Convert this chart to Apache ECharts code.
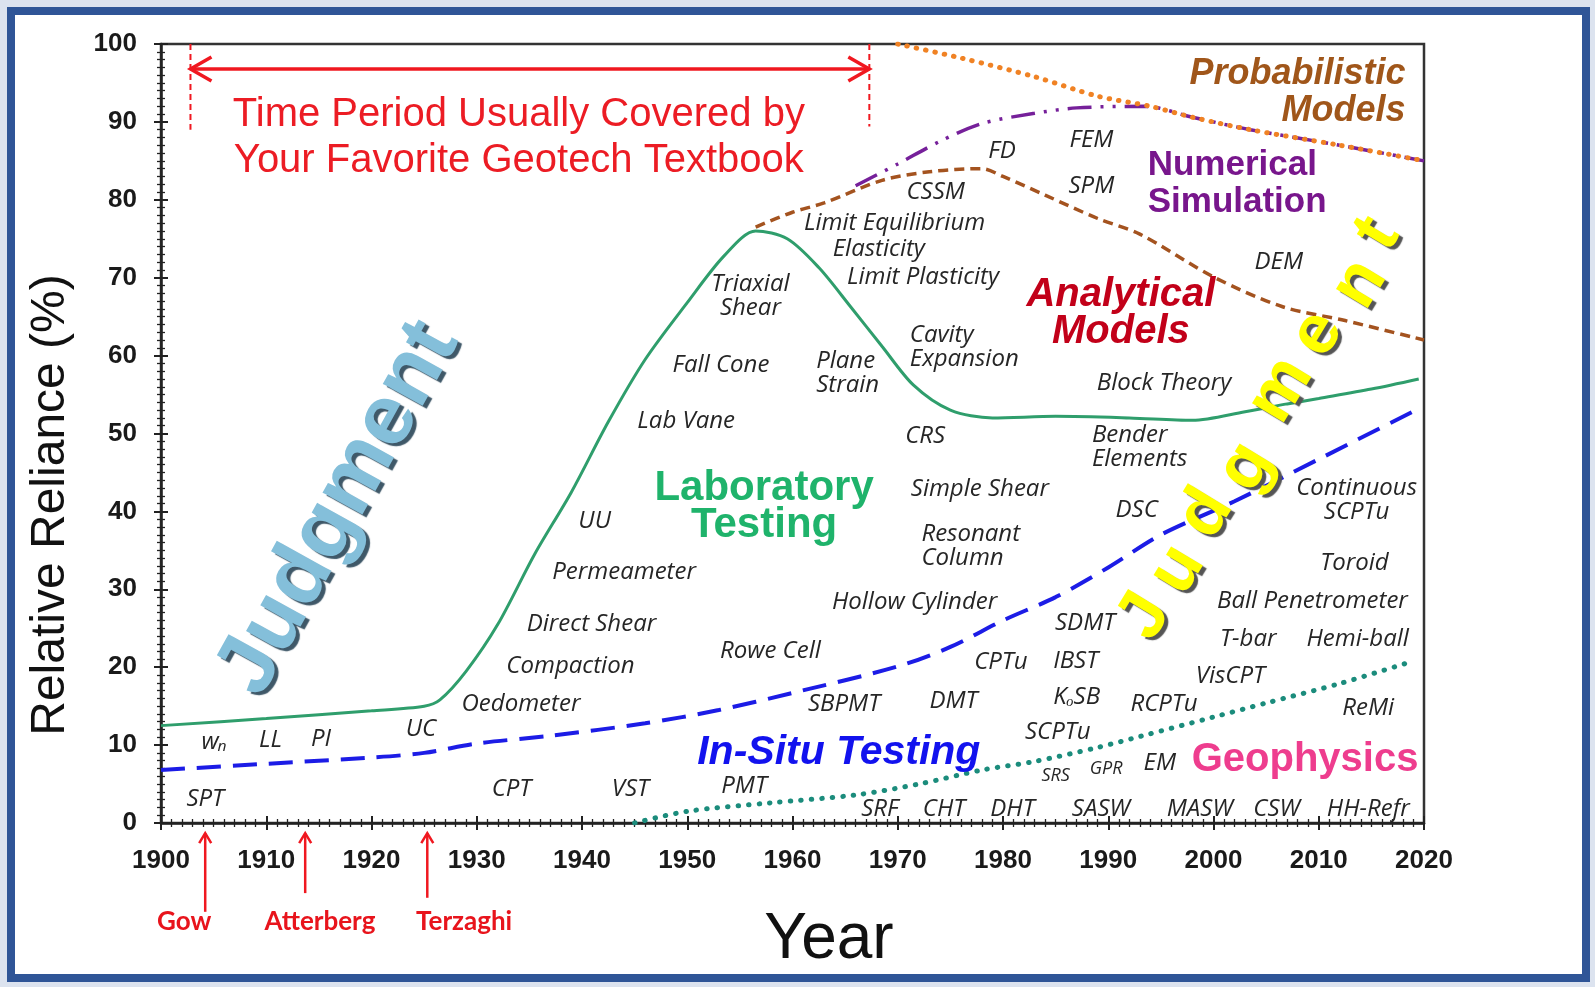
<!DOCTYPE html>
<html>
<head>
<meta charset="UTF-8"/>
<title>Relative Reliance</title>
<script src="https://cdn.jsdelivr.net/npm/echarts@6/dist/echarts.min.js"></script>
<style>
html,body{margin:0;padding:0;}
body{width:1595px;height:987px;background:#dce3ef;position:relative;overflow:hidden;}
.frame{position:absolute;left:7px;top:7px;width:1583px;height:975px;box-sizing:border-box;border:8px solid #2f5597;background:#fff;}
#chart{position:absolute;left:0;top:0;width:1595px;height:987px;}
</style>
</head>
<body>
<div class="frame"></div>
<div id="chart"></div>
<script type="text/javascript">
// curves: [year, relative reliance %]
var labTesting = [[1900,12.5],[1910,13.4],[1920,14.4],[1925,15.0],[1926.5,15.8],[1929,19.5],[1932,25.5],[1935.5,34.5],[1939,42.5],[1942.5,51.5],[1946,59.5],[1950,66.8],[1953.5,72.8],[1956.5,76.0],[1959.5,75.0],[1962.5,71.3],[1965.5,66.3],[1968.5,61.2],[1971.5,56.2],[1975,53.0],[1979,52.0],[1985,52.2],[1992,52.0],[1998,51.7],[2003,52.8],[2007,53.8],[2010,54.5],[2015,55.7],[2019.5,57.0]];
var inSitu = [[1900,6.8],[1910,7.6],[1920,8.4],[1925,9.0],[1930,10.2],[1937,11.2],[1946,12.8],[1953,14.5],[1960,16.7],[1970,20.1],[1975,22.6],[1980,26.0],[1985,29.0],[1990,32.8],[1995,37.0],[2002,41.3],[2010,46.7],[2019.5,53.2]];
var analytical = [[1956.5,76.5],[1960,78.4],[1963,79.6],[1968.5,82.5],[1973,83.6],[1978,84.0],[1980,83.0],[1984,80.6],[1989,77.6],[1993,75.6],[2000,70.1],[2006.5,66.3],[2012.5,64.5],[2020,62.0]];
var numerical = [[1966,81.8],[1970,84.6],[1974,87.5],[1978,89.8],[1983,91.1],[1987,91.8],[1993.5,92.0],[1998,90.6],[2003.5,89.0],[2012,87.0],[2020,85.0]];
var probabilistic = [[1970,100],[1976,98.2],[1983,95.8],[1989,93.3],[1994,92.0],[1998,90.6],[2003.5,89.0],[2012,87.0],[2020,85.0]];
var geophysics = [[1945,0],[1950,1.5],[1958,2.6],[1966,3.6],[1972,5.0],[1978,6.8],[1983,7.9],[1989,9.7],[1993,11.1],[2000,13.6],[2005,15.4],[2012,17.9],[2019,20.8]];

// method names: [year, value, text]
var methods = [[1904.2,3.0,'SPT'],[1905.1,10.4,'wₙ'],[1910.4,10.6,'LL'],[1915.2,10.7,'PI'],[1924.7,12.1,'UC'],
  [1933.3,4.3,'CPT'],[1944.6,4.3,'VST'],[1955.4,4.7,'PMT'],[1934.2,15.2,'Oedometer'],[1938.9,20.1,'Compaction'],
  [1940.9,25.5,'Direct Shear'],[1944.0,32.2,'Permeameter'],[1941.2,38.8,'UU'],[1949.9,51.6,'Lab Vane'],
  [1953.2,58.8,'Fall Cone'],[1956.0,67.6,'Triaxial\nShear'],[1969.7,77.0,'Limit Equilibrium'],[1968.2,73.6,'Elasticity'],
  [1972.4,70.1,'Limit Plasticity'],[1973.6,81.0,'CSSM'],[1979.9,86.3,'FD'],[1988.4,87.6,'FEM'],[1988.4,81.7,'SPM'],
  [2006.2,72.0,'DEM'],[1972.6,49.6,'CRS'],[1977.8,42.9,'Simple Shear'],[1971.6,28.3,'Hollow Cylinder'],
  [1957.9,22.1,'Rowe Cell'],[1964.9,15.2,'SBPMT'],[1975.3,15.6,'DMT'],[1979.8,20.6,'CPTu'],[1987.8,25.6,'SDMT'],
  [1986.9,20.8,'IBST'],[1987.0,16.2,'KₒSB'],[1985.2,11.6,'SCPTu'],[1994.9,7.7,'EM'],[1995.3,15.2,'RCPTu'],
  [2001.6,18.8,'VisCPT'],[2014.7,14.7,'ReMi'],[2003.3,23.6,'T-bar'],[2013.7,23.6,'Hemi-ball'],
  [2009.4,28.5,'Ball Penetrometer'],[2013.4,33.4,'Toroid'],[2013.6,41.4,'Continuous\nSCPTu'],[1992.7,40.2,'DSC'],
  [1995.3,56.5,'Block Theory'],[1968.3,1.8,'SRF'],[1974.4,1.8,'CHT'],[1980.9,1.8,'DHT'],[1989.3,1.8,'SASW'],
  [1998.7,1.8,'MASW'],[2006.0,1.8,'CSW'],[2014.7,1.8,'HH-Refr']];
var methodsLeft = [[1962.2,57.8,'Plane\nStrain'],[1971.1,61.1,'Cavity\nExpansion'],[1972.2,35.5,'Resonant\nColumn'],[1988.4,48.2,'Bender\nElements']];
var methodsSmall = [[1985.0,6.0,'SRS'],[1989.8,6.9,'GPR']];

var labTitle = [[1957.3,40.6,'Laboratory\nTesting']];
var inSituTitle = [[1964.4,9.0,'In-Situ Testing']];
var geoTitle = [[2008.7,8.1,'Geophysics']];
var analyticalTitle = [[1991.2,65.4,'Analytical\nModels']];
var numericalTitle = [[1993.7,82.1,'Numerical\nSimulation']];
var probTitle = [[2018.3,93.7,'Probabilistic\nModels']];
var judgmentBlue = [[1916.9,40.4,'Judgment']];
var judgmentYellow = [[1993.5,26.5,'J'],[1996.6,32.5,'u'],[1999.3,39.7,'d'],[2003.1,45.7,'g'],[2006.4,55.6,'m'],[2009.9,62.8,'e'],[2013.9,69.2,'n'],[2015.6,75.6,'t']];

// textbook period: [from year, value, to year]; bounds: [year, top, bottom]
var period = [[1902.8,96.8,1967.3]];
var periodBounds = [[1902.8,100,89.0],[1967.3,100,89.4]];
var periodText = [[1934.0,88.0,'Time Period Usually Covered by\nYour Favorite Geotech Textbook']];
// pioneers: arrows [year, head, tail] and names
var pioneerArrows = [[1904.2,-1.3,-11.4],[1913.7,-1.3,-9.0],[1925.3,-1.3,-9.6]];
var pioneerNames = [[1902.2,-12.7,'Gow'],[1915.1,-12.7,'Atterberg'],[1928.8,-12.7,'Terzaghi']];

var RED = '#f01820';
var AXIS = '#222';

function textLayer(points, label) {
  return {
    type: 'scatter', silent: true, clip: false, z: 6,
    symbolSize: 1, itemStyle: {color: 'rgba(0,0,0,0)'},
    data: points.map(function (p) { return {name: p[2], value: [p[0], p[1]]}; }),
    label: Object.assign({show: true, formatter: '{b}', position: 'inside', textBorderWidth: 0, textBorderColor: 'transparent', opacity: 1}, label),
    emphasis: {disabled: true}
  };
}
function head(x, y, dx, dy, len, half) {
  return [[x - dx * len - dy * half, y - dy * len + dx * half], [x, y], [x - dx * len + dy * half, y - dy * len - dx * half]];
}
function curve(data, color, type, width, cap) {
  return {
    type: 'line', data: data, smooth: 0.3, showSymbol: false, silent: true, z: 3,
    lineStyle: {color: color, type: type, width: width, cap: cap || 'butt'}
  };
}

var note = {fontFamily: 'Open Sans', fontStyle: 'italic', fontSize: 24, color: '#262626', lineHeight: 24};
var big = {fontFamily: 'Liberation Sans', fontWeight: 'bold', fontSize: 40, lineHeight: 37};

function xAx(inside) {
  return {
    type: 'value', min: 1900, max: 2020, interval: 10, position: 'bottom',
    axisLine: {show: !inside, onZero: false, lineStyle: {color: AXIS, width: 2.5}},
    axisTick: {show: true, inside: inside, length: 7, lineStyle: {color: AXIS, width: 2}},
    minorTick: {show: true, splitNumber: 10, length: 4, lineStyle: {color: AXIS, width: 1.3}},
    axisLabel: {show: !inside, margin: 25, fontFamily: 'Liberation Sans', fontWeight: 'bold', fontSize: 26, color: '#1a1a1a',
      formatter: function (v) { return String(v); }},
    splitLine: {show: false}
  };
}
function yAx(inside) {
  return {
    type: 'value', min: 0, max: 100, interval: 10, position: 'left',
    axisLine: {show: !inside, onZero: false, lineStyle: {color: AXIS, width: 2.5}},
    axisTick: {show: true, inside: inside, length: 7, lineStyle: {color: AXIS, width: 2}},
    minorTick: {show: true, splitNumber: 10, length: 4, lineStyle: {color: AXIS, width: 1.3}},
    axisLabel: {show: !inside, margin: 24, fontFamily: 'Liberation Sans', fontWeight: 'bold', fontSize: 26, color: '#1a1a1a'},
    splitLine: {show: false}
  };
}

var myChart = echarts.init(document.getElementById('chart'), null, {renderer: 'canvas'});
var option = {
  animation: false,
  backgroundColor: 'transparent',
  graphic: [
    {type: 'text', x: 51, y: 505, rotation: Math.PI / 2, silent: true,
      style: {text: 'Relative Reliance (%)', font: '48px "Liberation Sans"', fill: '#111', align: 'center', verticalAlign: 'middle'}},
    {type: 'text', x: 829, y: 940, silent: true,
      style: {text: 'Year', font: '64px "Liberation Sans"', fill: '#111', align: 'center', verticalAlign: 'middle'}}
  ],
  grid: {left: 161, right: 171, top: 44, bottom: 164, containLabel: false, outerBoundsMode: 'none',
    show: true, borderColor: '#333', borderWidth: 2.5, backgroundColor: 'transparent'},
  xAxis: [xAx(false), xAx(true)],
  yAxis: [yAx(false), yAx(true)],
  series: [
    curve(geophysics, '#1b8c7c', [0.5, 10], 5, 'round'),
    curve(inSitu, '#1c1ce6', [24, 12], 4),
    curve(labTesting, '#2f9e6c', 'solid', 3),
    curve(analytical, '#a4531f', [10, 6], 3.5),
    curve(numerical, '#76209a', [24, 9, 3, 9, 3, 9], 3.5),
    curve(probabilistic, '#f08224', [0.5, 9], 5, 'round'),
    {
      type: 'custom', silent: true, z: 4, data: period,
      renderItem: function (params, api) {
        var a = api.coord([api.value(0), api.value(1)]), b = api.coord([api.value(2), api.value(1)]);
        var st = {stroke: RED, lineWidth: 3.5, fill: null};
        return {type: 'group', children: [
          {type: 'line', shape: {x1: a[0], y1: a[1], x2: b[0], y2: b[1]}, style: st},
          {type: 'polyline', shape: {points: head(a[0], a[1], -1, 0, 21, 12)}, style: st},
          {type: 'polyline', shape: {points: head(b[0], b[1], 1, 0, 21, 12)}, style: st}
        ]};
      }
    },
    {
      type: 'custom', silent: true, z: 4, data: periodBounds,
      renderItem: function (params, api) {
        var a = api.coord([api.value(0), api.value(1)]), b = api.coord([api.value(0), api.value(2)]);
        return {type: 'line', shape: {x1: a[0], y1: a[1], x2: b[0], y2: b[1]}, style: {stroke: RED, lineWidth: 2, lineDash: [6, 4]}};
      }
    },
    {
      type: 'custom', silent: true, clip: false, z: 4, data: pioneerArrows,
      renderItem: function (params, api) {
        var h = api.coord([api.value(0), api.value(1)]), t = api.coord([api.value(0), api.value(2)]);
        var st = {stroke: RED, lineWidth: 2.5, fill: null};
        return {type: 'group', children: [
          {type: 'line', shape: {x1: t[0], y1: t[1], x2: h[0], y2: h[1]}, style: st},
          {type: 'polyline', shape: {points: head(h[0], h[1], 0, -1, 10, 6)}, style: st}
        ]};
      }
    },
    textLayer(periodText, {fontFamily: 'Liberation Sans', fontSize: 40, lineHeight: 46, color: '#ec1c24'}),
    textLayer(pioneerNames, {fontFamily: 'Lato', fontWeight: 'bold', fontSize: 26, color: '#e8141c'}),
    textLayer(methods, note),
    textLayer(methodsLeft, Object.assign({position: 'right', distance: 0}, note)),
    textLayer(methodsSmall, Object.assign({}, note, {fontSize: 18})),
    textLayer(labTitle, Object.assign({}, big, {color: '#1fb36b', fontSize: 42})),
    textLayer(inSituTitle, Object.assign({}, big, {color: '#1212ee', fontStyle: 'italic', fontSize: 41})),
    textLayer(geoTitle, Object.assign({}, big, {color: '#ee3d8e'})),
    textLayer(analyticalTitle, Object.assign({}, big, {color: '#c20019', fontStyle: 'italic', fontSize: 40})),
    textLayer(numericalTitle, Object.assign({}, big, {color: '#78168c', fontSize: 35, position: 'right', distance: 0})),
    textLayer(probTitle, Object.assign({}, big, {color: '#a0561a', fontSize: 36, fontStyle: 'italic', position: 'left', distance: 0})),
    textLayer(judgmentBlue, {fontFamily: 'Liberation Sans', fontWeight: 'bold', fontSize: 86, rotate: 61, color: '#84bfda',
      textShadowColor: '#3f5868', textShadowOffsetX: 4, textShadowOffsetY: 3, textShadowBlur: 1}),
    textLayer(judgmentYellow, {fontFamily: 'Liberation Sans', fontWeight: 'bold', fontSize: 70, rotate: 58.7, color: '#ffff00',
      textShadowColor: '#555', textShadowOffsetX: 4, textShadowOffsetY: 3, textShadowBlur: 1})
  ]
};
if (option && typeof option === "object") {
    myChart.setOption(option, true);
}
</script>
</body>
</html>
